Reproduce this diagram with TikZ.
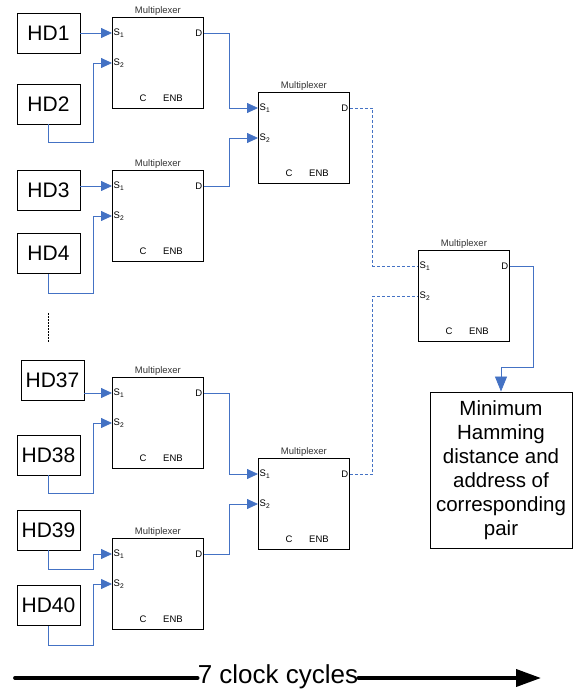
\documentclass[tikz,border=0pt]{standalone}
\usepackage{fontspec}
\setmainfont{Liberation Sans}
\usetikzlibrary{arrows.meta, positioning}
\definecolor{wireblue}{HTML}{4472C4}
\definecolor{labelgray}{HTML}{333333}

\begin{document}
\begin{tikzpicture}[
    x=1pt, y=-1pt,
    hd/.style={rectangle, draw=black, line width=0.9pt, fill=white,
               minimum width=63pt, minimum height=40pt, inner sep=1pt,
               font=\fontsize{21}{24}\selectfont},
    mux/.style={rectangle, draw=black, line width=0.9pt,
                minimum width=91pt, minimum height=91pt, anchor=north west},
    muxlbl/.style={font=\fontsize{9.5}{11}\selectfont, text=labelgray,
                   inner sep=1pt, anchor=south},
    pin/.style={font=\fontsize{9.5}{11}\selectfont, inner sep=1.5pt},
    result/.style={rectangle, draw=black, line width=0.9pt,
                   minimum width=142pt, minimum height=156pt,
                   align=center, font=\fontsize{20.5}{24}\selectfont},
    arr/.style={-{Triangle[length=11pt, width=10pt]}, wireblue, line width=0.8pt},
    dline/.style={wireblue, line width=0.9pt, dash pattern=on 3pt off 2pt},
    clockarr/.style={-{Triangle[length=25pt, width=17pt]}, line width=3.8pt,
                     line cap=round},
  ]
    \useasboundingbox (0,0) rectangle (578,695);

    % inputs
    \node[hd] (hd1)  at (48.5,33)    {HD1};
    \node[hd] (hd2)  at (48.5,104)   {HD2};
    \node[hd] (hd3)  at (48.5,190.5) {HD3};
    \node[hd] (hd4)  at (48.5,253.5) {HD4};
    \node[hd] (hd37) at (52.5,380)   {HD37};
    \node[hd] (hd38) at (48.5,455)   {HD38};
    \node[hd] (hd39) at (48.5,530)   {HD39};
    \node[hd] (hd40) at (48.5,605.5) {HD40};

    % vertical dots
    \coordinate (dotstop) at (48,313);
    \coordinate (dotsbot) at (48,343);
    \draw[line width=0.9pt, dash pattern=on 2pt off 1pt] (dotstop) -- (dotsbot);

    % multiplexers
    \foreach \n/\x/\y in {m1/112/17, m2/112/170, m3/112/377, m4/112/538,
                          m5/258/92, m6/258/458, m7/418/250} {
      \node[mux] (\n) at (\x,\y) {};
      \node[muxlbl] at (\n.north) {Multiplexer};
      \coordinate (\n-s1) at ([yshift=-16pt]\n.north west);
      \coordinate (\n-s2) at ([yshift=-46pt]\n.north west);
      \coordinate (\n-d)  at ([yshift=-16pt]\n.north east);
      \node[pin, anchor=west] at (\n-s1) {S\textsubscript{1}};
      \node[pin, anchor=west] at (\n-s2) {S\textsubscript{2}};
      \node[pin, anchor=east] at (\n-d) {D};
      \node[pin] at ([xshift=31pt, yshift=11pt]\n.south west) {C};
      \node[pin] at ([xshift=61pt, yshift=11pt]\n.south west) {ENB};
    }

    \node[result] (out) at (501,470)
      {Minimum\\Hamming\\distance and\\address of\\corresponding\\pair};

    % inputs to first stage
    \foreach \h/\m in {hd1/m1, hd3/m2, hd37/m3}
      \draw[arr] (\h.east |- \m-s1) -- (\m-s1);
    \draw[arr] (hd2.south) -- ++(0,18) -| ([xshift=-19pt]m1-s2) -- (m1-s2);
    \draw[arr] (hd4.south) -- ++(0,19) -| ([xshift=-19pt]m2-s2) -- (m2-s2);
    \draw[arr] (hd38.south) -- ++(0,18) -| ([xshift=-19pt]m3-s2) -- (m3-s2);
    \draw[arr] (hd39.south) -- ++(0,19) -| ([xshift=-19pt]m4-s1) -- (m4-s1);
    \draw[arr] (hd40.south) -- ++(0,19) -| ([xshift=-19pt]m4-s2) -- (m4-s2);

    % second stage
    \draw[arr] (m1-d) -- ++(25,0) |- (m5-s1);
    \draw[arr] (m2-d) -- ++(25,0) |- (m5-s2);
    \draw[arr] (m3-d) -- ++(25,0) |- (m6-s1);
    \draw[arr] (m4-d) -- ++(25,0) |- (m6-s2);

    % third stage
    \draw[dline] (m5-d) -- ++(23,0) |- (m7-s1);
    \draw[dline] (m6-d) -- ++(23,0) |- (m7-s2);

    \draw[arr, -{Triangle[length=15pt, width=12pt]}]
      (m7-d) -- ++(23,0) |- ([yshift=24pt]out.north) -- (out.north);

    % clock cycles
    \node[font=\fontsize{26}{30}\selectfont, inner sep=0pt] (clk) at (278,677) {7 clock cycles};
    \coordinate (clkstart) at (15,678);
    \coordinate (clkend) at (541,678);
    \draw[line width=3.8pt, line cap=round] (clkstart) -- (clk.west |- clkstart);
    \draw[clockarr] (clk.east |- clkend) -- (clkend);
\end{tikzpicture}
\end{document}
